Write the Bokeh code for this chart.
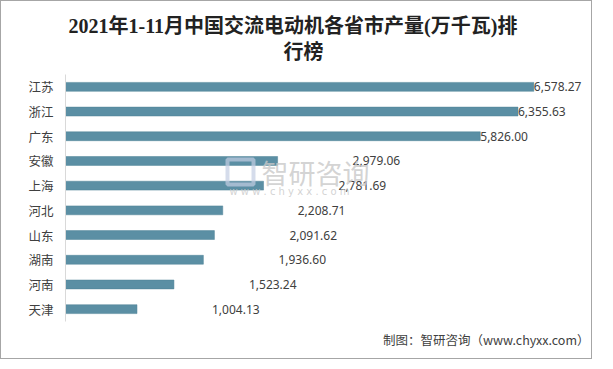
from bokeh.plotting import figure
from bokeh.models import ColumnDataSource, FactorRange, Range1d, Label, Title, BoxAnnotation
from bokeh.embed import file_html
from bokeh.resources import INLINE
from bokeh.core.properties import value

provinces = ["江苏", "浙江", "广东", "安徽", "上海", "河北", "山东", "湖南", "河南", "天津"]
output = [6578.27, 6355.63, 5826.00, 2979.06, 2781.69, 2208.71, 2091.62, 1936.60, 1523.24, 1004.13]
value_labels = [f"{v:,.2f}" for v in output]

title_line1 = "2021年1-11月中国交流电动机各省市产量(万千瓦)排"
title_line2 = "行榜"
source_note = "制图：智研咨询（www.chyxx.com）"

W, H = 592, 359
FRAME_LEFT, FRAME_BOTTOM = 72, 328  # page pixels


def fx(px):
    return px - FRAME_LEFT


def fy(py):
    return FRAME_BOTTOM - py


src = ColumnDataSource(dict(
    prov=provinces,
    val=output,
    lab=value_labels,
    off=[0 if v > 5000 else 75 for v in output],
))

p = figure(width=W, height=H, output_backend="svg", toolbar_location=None,
           y_range=FactorRange(*provinces[::-1]), x_range=Range1d(0, 7360),
           min_border_left=64, min_border_right=4, min_border_top=73, min_border_bottom=39)
p.styles = {"border": "1px solid #a6a6a6"}
p.outline_line_color = None
p.xgrid.visible = False
p.ygrid.visible = False
p.xaxis.visible = False
p.background_fill_color = "white"
p.border_fill_color = "white"

ax = p.yaxis[0]
ax.axis_line_color = "#d9d9d9"
ax.major_tick_line_color = None
ax.minor_tick_line_color = None
ax.major_tick_out = 0
ax.major_tick_in = 0
ax.major_label_standoff = 12
ax.major_label_text_font = "Noto Sans CJK SC"
ax.major_label_text_font_size = "12.5px"
ax.major_label_text_color = "#404040"

p.hbar(y="prov", right="val", left=0, height=0.36, source=src,
       fill_color="#5b8fa4", line_color="#4f8297", line_width=0.5)

p.text(x="val", y="prov", text="lab", x_offset="off", source=src,
       text_baseline="middle", text_align="left",
       text_font=value("Noto Sans"), text_font_size="12px", text_color="#404040")

# watermark
p.add_layout(BoxAnnotation(left=fx(234), right=fx(260), bottom=fy(191), top=fy(166),
                           left_units="screen", right_units="screen",
                           bottom_units="screen", top_units="screen",
                           fill_color=None, line_color="#c3cde2", line_width=4, line_alpha=0.7))
p.add_layout(Label(x=fx(268), y=fy(179), x_units="screen", y_units="screen",
                   text="智研咨询", text_font="Noto Sans CJK SC", text_font_size="27px",
                   text_color="#c8c8c8", text_alpha=0.8, text_baseline="middle", text_align="left"))
p.add_layout(Label(x=fx(236), y=fy(198), x_units="screen", y_units="screen",
                   text="w w w . c h y x x . c o m", text_font="DejaVu Sans", text_font_size="10px",
                   text_color="#c8c8c8", text_alpha=0.8, text_baseline="middle", text_align="left"))

# title (two lines, stacked above the frame, with a spacer next to the frame)
p.add_layout(Title(text=" ", text_font_size="1px", standoff=8), "above")
p.add_layout(Title(text=title_line2, align="left", offset=218,
                   text_font="Liberation Serif, Noto Sans CJK SC",
                   text_font_size="20px", text_font_style="bold", text_color="#222222",
                   standoff=2), "above")
p.add_layout(Title(text=title_line1, align="left", offset=3,
                   text_font="Liberation Serif, Noto Sans CJK SC",
                   text_font_size="20px", text_font_style="bold", text_color="#222222",
                   standoff=2), "above")

# source note
p.add_layout(Title(text=source_note, align="right", text_font="Noto Sans CJK SC",
                   text_font_size="12.5px", text_font_style="normal", text_color="#404040",
                   offset=0, standoff=12), "below")

open("out.html", "w").write(file_html(p, INLINE))
